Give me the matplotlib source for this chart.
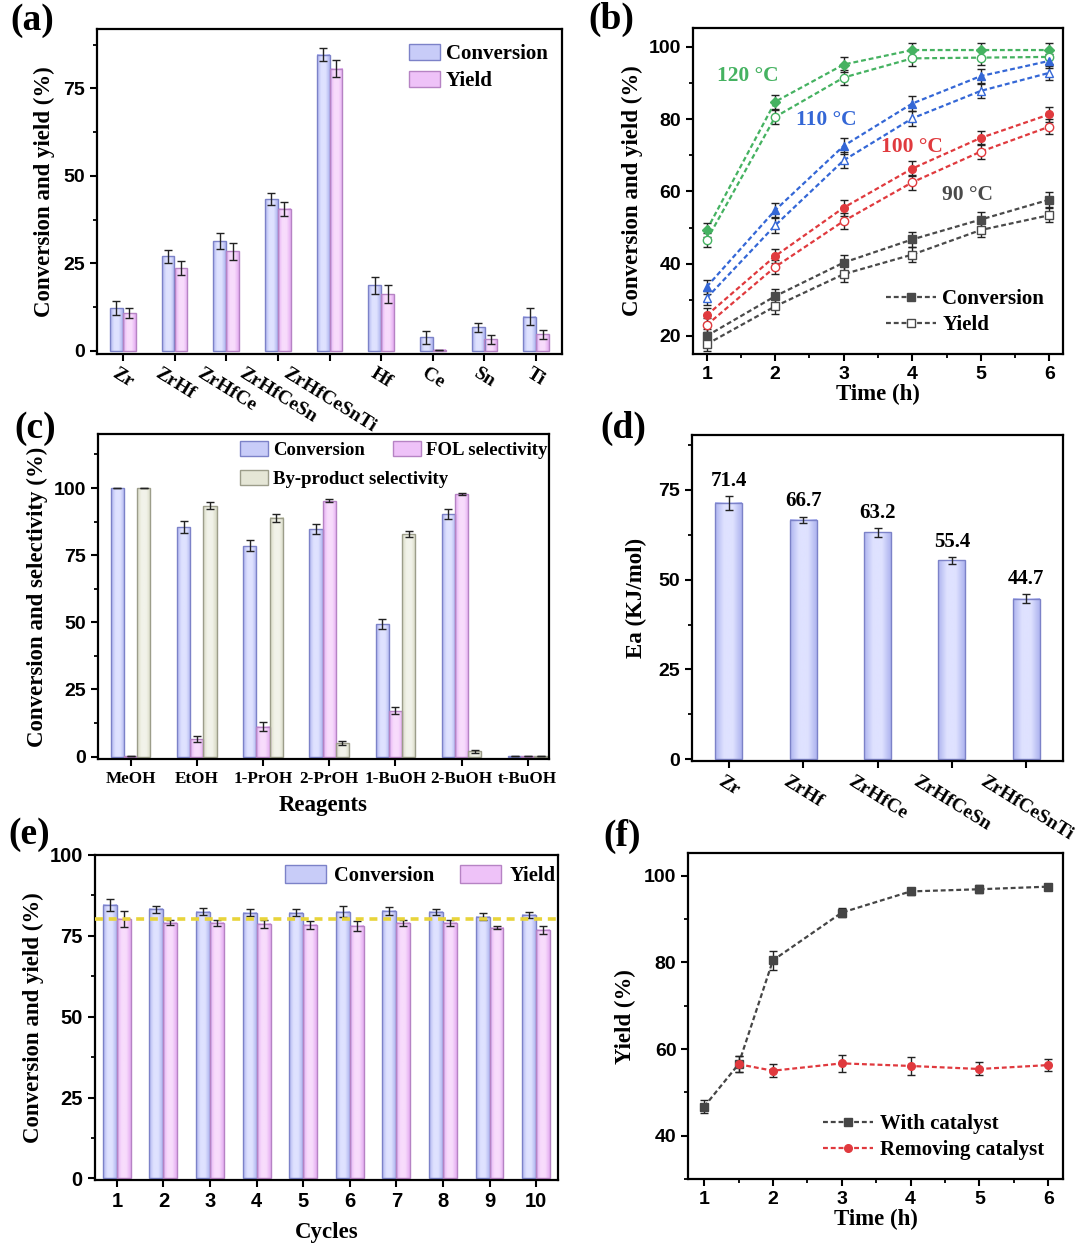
import numpy as np
import matplotlib
matplotlib.use("Agg")
import matplotlib.pyplot as plt
from matplotlib.colors import LinearSegmentedColormap
from matplotlib.patches import Patch
from matplotlib.lines import Line2D
from matplotlib.ticker import MultipleLocator

# ---------------- data ----------------
# (a)
a_cats = ["Zr", "ZrHf", "ZrHfCe", "ZrHfCeSn", "ZrHfCeSnTi", "Hf", "Ce", "Sn", "Ti"]
a_conv = [12.2, 27.0, 31.3, 43.4, 84.7, 18.7, 3.9, 6.7, 9.8]
a_conv_err = [2.0, 1.8, 2.3, 1.7, 1.8, 2.4, 1.9, 1.4, 2.4]
a_yield = [10.8, 23.7, 28.4, 40.6, 80.7, 16.2, 0.3, 3.3, 4.8]
a_yield_err = [1.5, 2.1, 2.4, 2.0, 2.3, 2.6, 0.0, 1.3, 1.3]

# (b)
b_time = [1, 2, 3, 4, 5, 6]
b_conv_120 = [49.3, 84.8, 95.1, 99.1, 99.1, 99.1]
b_yield_120 = [46.5, 80.6, 91.5, 96.8, 97.0, 97.2]
b_conv_110 = [33.6, 54.8, 72.6, 84.3, 91.9, 96.1]
b_yield_110 = [30.5, 50.6, 68.6, 80.2, 87.8, 92.8]
b_conv_100 = [25.7, 42.1, 55.5, 66.3, 74.8, 81.3]
b_yield_100 = [23.0, 39.1, 51.8, 62.5, 71.0, 77.9]
b_conv_90 = [20.0, 31.0, 40.3, 46.7, 52.2, 57.7]
b_yield_90 = [17.7, 28.2, 37.1, 42.5, 49.3, 53.4]
b_err = [2.0, 2.0, 2.2, 2.0, 2.0, 2.0]
b_temps = ["120 °C", "110 °C", "100 °C", "90 °C"]

# (c)
c_cats = ["MeOH", "EtOH", "1-PrOH", "2-PrOH", "1-BuOH", "2-BuOH", "t-BuOH"]
c_conv = [100.0, 85.5, 78.5, 84.8, 49.3, 90.3, 0.3]
c_conv_err = [0.0, 2.2, 2.0, 1.8, 1.8, 1.8, 0.0]
c_fol = [0.3, 6.5, 11.2, 95.3, 17.1, 97.9, 0.3]
c_fol_err = [0.0, 1.2, 1.5, 0.6, 1.2, 0.4, 0.0]
c_by = [100.0, 93.4, 89.0, 5.0, 82.9, 1.9, 0.3]
c_by_err = [0.0, 1.3, 1.5, 0.8, 1.2, 0.4, 0.0]

# (d)
d_cats = ["Zr", "ZrHf", "ZrHfCe", "ZrHfCeSn", "ZrHfCeSnTi"]
d_ea = [71.4, 66.7, 63.2, 55.4, 44.7]
d_err = [1.9, 0.8, 1.2, 0.9, 1.2]

# (e)
e_cycles = [1, 2, 3, 4, 5, 6, 7, 8, 9, 10]
e_conv = [84.5, 83.2, 82.5, 82.2, 82.2, 82.4, 82.6, 82.4, 80.9, 81.5]
e_conv_err = [1.8, 1.0, 1.0, 1.1, 1.2, 1.7, 1.2, 0.9, 1.1, 1.0]
e_yield = [80.1, 79.0, 78.9, 78.6, 78.3, 78.0, 78.9, 79.0, 77.5, 76.8]
e_yield_err = [2.5, 0.8, 1.0, 1.2, 1.3, 1.5, 0.9, 0.9, 0.5, 1.2]
e_ref = 80.2

# (f)
f_time_with = [1, 1.5, 2, 3, 4, 5, 6]
f_with = [46.7, 56.5, 80.5, 91.5, 96.4, 96.9, 97.5]
f_with_err = [1.5, 1.8, 2.2, 1.0, 0.9, 0.9, 0.6]
f_time_rm = [1.5, 2, 3, 4, 5, 6]
f_rm = [56.5, 55.0, 56.7, 56.1, 55.4, 56.3]
f_rm_err = [1.8, 1.5, 2.0, 2.0, 1.5, 1.3]

# ---------------- style ----------------
SERIF = ["Liberation Serif", "DejaVu Serif"]
SANS = ["Liberation Sans", "DejaVu Sans"]
plt.rcParams["font.family"] = SANS
plt.rcParams["font.weight"] = "bold"
plt.rcParams["axes.linewidth"] = 1.6
plt.rcParams["xtick.major.width"] = 1.5
plt.rcParams["ytick.major.width"] = 1.5
plt.rcParams["xtick.minor.width"] = 1.3
plt.rcParams["ytick.minor.width"] = 1.3
plt.rcParams["xtick.major.size"] = 5
plt.rcParams["ytick.major.size"] = 5
plt.rcParams["xtick.minor.size"] = 3
plt.rcParams["ytick.minor.size"] = 3

TICK_FS = 14
LAB_FS = 16.5
LEG_FS = 15

CONV_D, CONV_L, CONV_E = "#aeb4ef", "#dfe2ff", "#7c82c8"
YLD_D, YLD_L, YLD_E = "#e4acf1", "#f8dcfc", "#b683c4"
BY_D, BY_L, BY_E = "#d8dac4", "#f2f3ea", "#9c9d8a"
CONV_M, YLD_M, BY_M = "#c8ccf8", "#eec2f8", "#e5e6d6"

fig = plt.figure(figsize=(10.8, 12.48), dpi=100)


def shade(ax, bars, dark, light):
    cmap = LinearSegmentedColormap.from_list("g", [dark, light, light, dark])
    grad = np.linspace(0, 1, 64).reshape(1, -1)
    for b in bars:
        x0, y0 = b.get_xy()
        w, h = b.get_width(), b.get_height()
        if h <= 0:
            continue
        ax.imshow(grad, extent=[x0, x0 + w, y0, y0 + h], cmap=cmap,
                  aspect="auto", zorder=1.5, interpolation="bicubic")


def gbar(ax, x, h, w, err, dark, light, edge):
    bars = ax.bar(x, h, w, facecolor="none", edgecolor=edge, linewidth=1.0, zorder=2)
    shade(ax, bars, dark, light)
    ax.errorbar(x, h, yerr=err, fmt="none", ecolor="#222222", elinewidth=1.0,
                capsize=3, capthick=1.0, zorder=3)
    return bars


def ylab(ax, text, pad=6):
    ax.set_ylabel(text, fontsize=LAB_FS, fontweight="bold", family=SERIF, labelpad=pad)


def xlab(ax, text, pad=2):
    ax.set_xlabel(text, fontsize=LAB_FS, fontweight="bold", family=SERIF, labelpad=pad)


def ticks_style(ax):
    ax.tick_params(axis="both", which="both", direction="out", labelsize=TICK_FS)


def panel_label(x, y, s):
    fig.text(x / 1080, 1 - y / 1248, s, fontsize=27, fontweight="bold",
             family=SERIF, ha="left", va="center")


leg_prop = {"family": SERIF, "weight": "bold", "size": LEG_FS}

# ---------------- (a) ----------------
ax = fig.add_axes([97 / 1080, 1 - 354 / 1248, 465 / 1080, 325 / 1248])
xa = np.arange(len(a_cats))
gbar(ax, xa - 0.125, a_conv, 0.25, a_conv_err, CONV_D, CONV_L, CONV_E)
gbar(ax, xa + 0.125, a_yield, 0.25, a_yield_err, YLD_D, YLD_L, YLD_E)
ax.set_xlim(-0.5, 8.5)
ax.set_ylim(-0.9, 92)
ax.yaxis.set_major_locator(MultipleLocator(25))
ax.yaxis.set_minor_locator(MultipleLocator(12.5))
ax.set_xticks(xa)
ax.set_xticklabels(a_cats, rotation=-32, ha="center", va="top",
                   fontsize=14, fontweight="bold", family=SERIF)
ticks_style(ax)
ax.tick_params(axis="x", pad=3)
ylab(ax, "Conversion and yield (%)")
ax.legend(handles=[Patch(facecolor=CONV_M, edgecolor=CONV_E, label="Conversion"),
                   Patch(facecolor=YLD_M, edgecolor=YLD_E, label="Yield")],
          loc="upper right", frameon=False, prop=leg_prop,
          handlelength=1.5, handleheight=0.8, handletextpad=0.25, labelspacing=0.35,
          borderaxespad=0.3)

# ---------------- (b) ----------------
ax = fig.add_axes([693 / 1080, 1 - 354 / 1248, 370 / 1080, 326 / 1248])
b_series = [
    (b_conv_120, b_yield_120, "#45b261", "D", "o"),
    (b_conv_110, b_yield_110, "#3467d6", "^", "^"),
    (b_conv_100, b_yield_100, "#e03a3e", "o", "o"),
    (b_conv_90, b_yield_90, "#4a4a4a", "s", "s"),
]
dash = (0, (2.2, 1.3))
for conv, yld, col, mk1, mk2 in b_series:
    ax.errorbar(b_time, conv, yerr=b_err, color=col, linestyle=dash, linewidth=1.6,
                marker=mk1, markersize=5.5, markerfacecolor=col, markeredgecolor=col,
                ecolor="#222222", elinewidth=1.0, capsize=3, capthick=1.0, zorder=3)
    ax.errorbar(b_time, yld, yerr=b_err, color=col, linestyle=dash, linewidth=1.6,
                marker=mk2, markersize=6, markerfacecolor="white", markeredgecolor=col,
                ecolor="#222222", elinewidth=1.0, capsize=3, capthick=1.0, zorder=3)
temp_pos = [(1.6, 92.0), (2.75, 79.8), (3.99, 72.4), (4.8, 59.0)]
for (tx, ty), lbl, ser in zip(temp_pos, b_temps, b_series):
    ax.text(tx, ty, lbl, color=ser[2], fontsize=15.5, fontweight="bold", family=SERIF,
            ha="center", va="center")
ax.set_xlim(0.8, 6.2)
ax.set_ylim(15, 105.2)
ax.xaxis.set_major_locator(MultipleLocator(1))
ax.xaxis.set_minor_locator(MultipleLocator(0.5))
ax.yaxis.set_major_locator(MultipleLocator(20))
ax.yaxis.set_minor_locator(MultipleLocator(10))
ticks_style(ax)
ylab(ax, "Conversion and yield (%)", pad=4)
xlab(ax, "Time (h)", pad=1)
ax.legend(handles=[Line2D([], [], color="#4a4a4a", linestyle=dash, lw=1.6, marker="s",
                          markersize=5.5, markerfacecolor="#4a4a4a", label="Conversion"),
                   Line2D([], [], color="#4a4a4a", linestyle=dash, lw=1.6, marker="s",
                          markersize=5.5, markerfacecolor="white", label="Yield")],
          loc="lower right", frameon=False, prop=leg_prop,
          handlelength=2.4, handletextpad=0.3, labelspacing=0.3, borderaxespad=0.5)

# ---------------- (c) ----------------
ax = fig.add_axes([97.5 / 1080, 1 - 759 / 1248, 451.5 / 1080, 324.7 / 1248])
xc = np.arange(len(c_cats))
gbar(ax, xc - 0.2, c_conv, 0.2, c_conv_err, CONV_D, CONV_L, CONV_E)
gbar(ax, xc, c_fol, 0.2, c_fol_err, YLD_D, YLD_L, YLD_E)
gbar(ax, xc + 0.2, c_by, 0.2, c_by_err, BY_D, BY_L, BY_E)
ax.set_xlim(-0.5, 6.32)
ax.set_ylim(-0.9, 120)
ax.yaxis.set_major_locator(MultipleLocator(25))
ax.yaxis.set_minor_locator(MultipleLocator(12.5))
ax.set_xticks(xc)
ax.set_xticklabels(c_cats, fontsize=12.3, fontweight="bold", family=SERIF)
ticks_style(ax)
ax.tick_params(axis="x", labelsize=12.3)
ax.set_yticks([0, 25, 50, 75, 100])
ylab(ax, "Conversion and selectivity (%)", pad=4)
xlab(ax, "Reagents", pad=6)
c_prop = {"family": SERIF, "weight": "bold", "size": 13.5}
leg1 = ax.legend(handles=[Patch(facecolor=CONV_M, edgecolor=CONV_E, label="Conversion"),
                          Patch(facecolor=YLD_M, edgecolor=YLD_E, label="FOL selectivity")],
                 ncol=2, loc="center left", bbox_to_anchor=(0.316, 0.952), frameon=False,
                 prop=c_prop, handlelength=1.5, handleheight=0.9, handletextpad=0.25,
                 columnspacing=1.5, borderpad=0, borderaxespad=0)
ax.add_artist(leg1)
ax.legend(handles=[Patch(facecolor=BY_M, edgecolor=BY_E, label="By-product selectivity")],
          loc="center left", bbox_to_anchor=(0.316, 0.863), frameon=False,
          prop=c_prop, handlelength=1.5, handleheight=0.9, handletextpad=0.25,
          borderpad=0, borderaxespad=0)

# ---------------- (d) ----------------
ax = fig.add_axes([691.7 / 1080, 1 - 760.7 / 1248, 371.6 / 1080, 325.7 / 1248])
xd = np.arange(len(d_cats))
gbar(ax, xd, d_ea, 0.36, d_err, CONV_D, CONV_L, CONV_E)
for xi, v, e in zip(xd, d_ea, d_err):
    ax.text(xi, v + e + 1.5, f"{v:.1f}", ha="center", va="bottom", fontsize=15,
            fontweight="bold", family=SERIF)
ax.set_xlim(-0.5, 4.5)
ax.set_ylim(-0.4, 90.3)
ax.yaxis.set_major_locator(MultipleLocator(25))
ax.yaxis.set_minor_locator(MultipleLocator(12.5))
ax.set_xticks(xd)
ax.set_xticklabels(d_cats, rotation=-32, ha="center", va="top",
                   fontsize=14.5, fontweight="bold", family=SERIF)
ticks_style(ax)
ax.tick_params(axis="x", pad=4)
ylab(ax, "Ea (KJ/mol)", pad=8)

# ---------------- (e) ----------------
ax = fig.add_axes([94.5 / 1080, 1 - 1180 / 1248, 463.5 / 1080, 325 / 1248])
xe = np.array(e_cycles)
gbar(ax, xe - 0.15, e_conv, 0.3, e_conv_err, CONV_D, CONV_L, CONV_E)
gbar(ax, xe + 0.15, e_yield, 0.3, e_yield_err, YLD_D, YLD_L, YLD_E)
ax.axhline(e_ref, color="#e8d43a", linestyle=(0, (2.2, 1.6)), linewidth=2.6, zorder=4)
ax.set_xlim(0.52, 10.47)
ax.set_ylim(-0.5, 100)
ax.set_xticks(xe)
ax.yaxis.set_major_locator(MultipleLocator(25))
ax.yaxis.set_minor_locator(MultipleLocator(12.5))
ticks_style(ax)
ax.tick_params(axis="both", labelsize=14.5)
ylab(ax, "Conversion and yield (%)", pad=4)
xlab(ax, "Cycles", pad=8)
ax.legend(handles=[Patch(facecolor=CONV_M, edgecolor=CONV_E, label="Conversion"),
                   Patch(facecolor=YLD_M, edgecolor=YLD_E, label="Yield")],
          ncol=2, loc="upper right", frameon=False,
          prop={"family": SERIF, "weight": "bold", "size": 14.8},
          handlelength=2.0, handleheight=1.0, handletextpad=0.4,
          columnspacing=1.25, borderaxespad=0.0, bbox_to_anchor=(1.012, 0.995))

# ---------------- (f) ----------------
ax = fig.add_axes([688.3 / 1080, 1 - 1179 / 1248, 374.4 / 1080, 325.7 / 1248])
ax.errorbar(f_time_with, f_with, yerr=f_with_err, color="#454545", linestyle=dash,
            linewidth=1.6, marker="s", markersize=6, ecolor="#222222", elinewidth=1.0,
            capsize=3, capthick=1.0, zorder=3, label="With catalyst")
ax.errorbar(f_time_rm, f_rm, yerr=f_rm_err, color="#e0393e", linestyle=dash,
            linewidth=1.6, marker="o", markersize=5.5, ecolor="#222222", elinewidth=1.0,
            capsize=3, capthick=1.0, zorder=4, label="Removing catalyst")
ax.set_xlim(0.77, 6.21)
ax.set_ylim(30, 105.2)
ax.xaxis.set_major_locator(MultipleLocator(1))
ax.xaxis.set_minor_locator(MultipleLocator(0.5))
ax.yaxis.set_major_locator(MultipleLocator(20))
ax.yaxis.set_minor_locator(MultipleLocator(10))
ticks_style(ax)
ylab(ax, "Yield (%)", pad=6)
xlab(ax, "Time (h)", pad=1)
h, l = ax.get_legend_handles_labels()
ax.legend([hh[0] for hh in h], l, loc="lower right", frameon=False,
          prop={"family": SERIF, "weight": "bold", "size": 15},
          handlelength=2.4, handletextpad=0.3, labelspacing=0.3, borderaxespad=0.5)

# bold tick labels everywhere
for a in fig.axes:
    for t in a.get_xticklabels(which="major") + a.get_yticklabels(which="major"):
        t.set_fontweight("bold")

# panel letters
panel_label(10, 20, "(a)")
panel_label(588, 19, "(b)")
panel_label(14, 428, "(c)")
panel_label(600, 428, "(d)")
panel_label(8, 834, "(e)")
panel_label(603, 836, "(f)")

fig.savefig("out.png", dpi=100, facecolor="white")
